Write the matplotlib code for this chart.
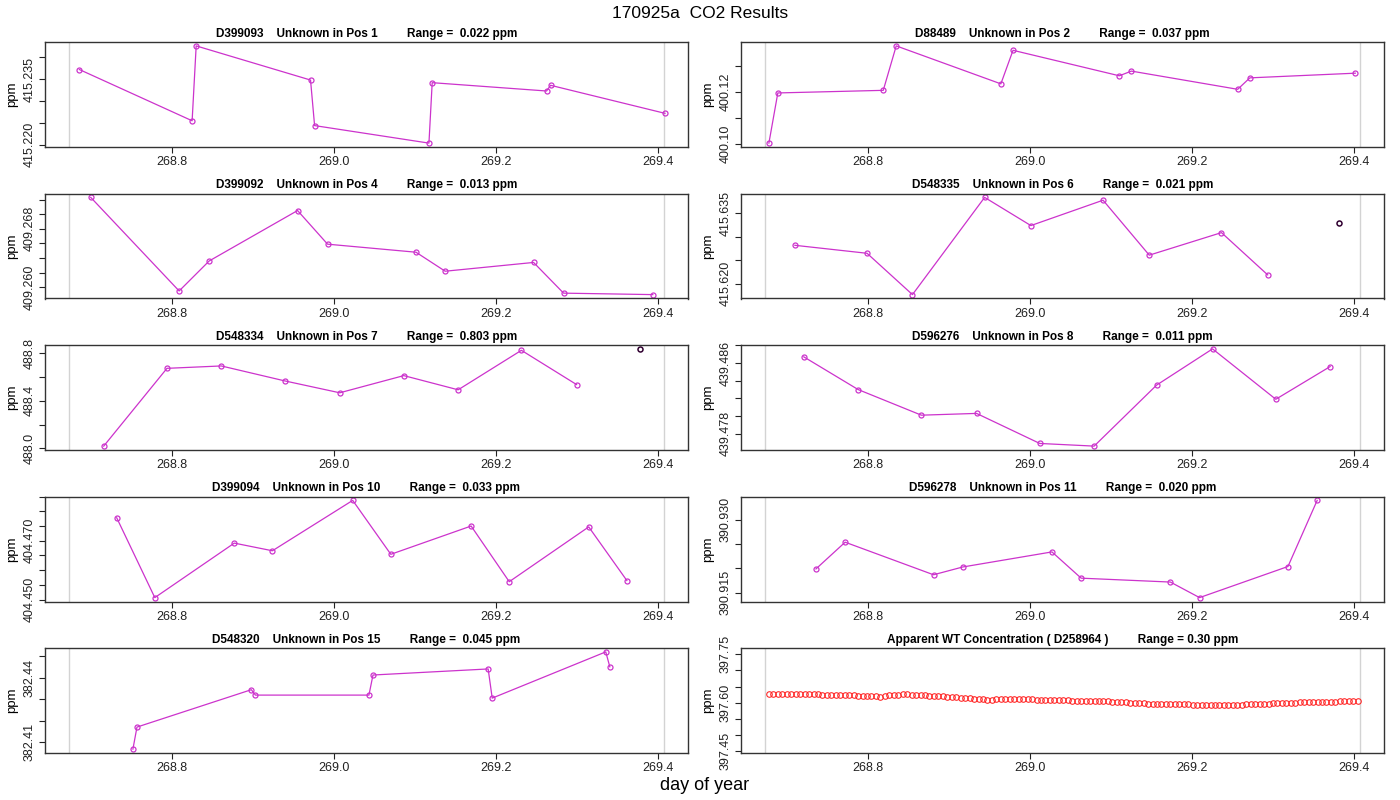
import matplotlib
matplotlib.use("Agg")
import matplotlib.pyplot as plt
from matplotlib.ticker import MultipleLocator, FuncFormatter

plt.rcParams['font.family'] = ['Liberation Sans', 'DejaVu Sans']

# --- shared x axis (day of year) ---
xlim_days = (268.6436, 269.4364)
run_start = 268.673
run_end = 269.407
x_ticks = [268.8, 269.0, 269.2, 269.4]

# --- unknown tanks ---
pos1_day = [268.686, 268.825, 268.830, 268.971, 268.976, 269.117, 269.121, 269.262, 269.267, 269.408]
pos1_ppm = [415.2372, 415.2255, 415.2426, 415.2348, 415.2244, 415.2204, 415.2342, 415.2323, 415.2336, 415.2272]
pos1_title = "D399093    Unknown in Pos 1         Range =  0.022 ppm"
pos1_ystep = 0.005
pos1_ylabels = ["415.220", "415.235"]

pos2_day = [268.678, 268.689, 268.819, 268.835, 268.964, 268.979, 269.110, 269.125, 269.256, 269.271, 269.401]
pos2_ppm = [400.1003, 400.1196, 400.1206, 400.1377, 400.1231, 400.1360, 400.1262, 400.1280, 400.1210, 400.1254, 400.1272]
pos2_title = "D88489    Unknown in Pos 2         Range =  0.037 ppm"
pos2_ystep = 0.01
pos2_ylabels = ["400.10", "400.12"]

pos4_day = [268.700, 268.809, 268.846, 268.955, 268.992, 269.101, 269.137, 269.246, 269.283, 269.393]
pos4_ppm = [409.2723, 409.2595, 409.2636, 409.2705, 409.2659, 409.2648, 409.2622, 409.2634, 409.2592, 409.2590]
pos4_title = "D399092    Unknown in Pos 4         Range =  0.013 ppm"
pos4_ystep = 0.002
pos4_ylabels = ["409.260", "409.268"]

pos6_day = [268.710, 268.799, 268.855, 268.944, 269.001, 269.090, 269.147, 269.236, 269.293]
pos6_ppm = [415.6282, 415.6265, 415.6177, 415.6384, 415.6324, 415.6378, 415.6261, 415.6309, 415.6219]
pos6_flag_day = [269.381]
pos6_flag_ppm = [415.6329]
pos6_title = "D548335    Unknown in Pos 6         Range =  0.021 ppm"
pos6_ystep = 0.005
pos6_ylabels = ["415.620", "415.635"]

pos7_day = [268.716, 268.794, 268.861, 268.939, 269.007, 269.086, 269.153, 269.231, 269.299]
pos7_ppm = [488.020, 488.672, 488.692, 488.567, 488.467, 488.611, 488.492, 488.823, 488.536]
pos7_flag_day = [269.377]
pos7_flag_ppm = [488.835]
pos7_title = "D548334    Unknown in Pos 7         Range =  0.803 ppm"
pos7_ystep = 0.2
pos7_ylabels = ["488.0", "488.4", "488.8"]

pos8_day = [268.721, 268.788, 268.866, 268.934, 269.012, 269.079, 269.156, 269.225, 269.303, 269.370]
pos8_ppm = [439.4867, 439.4830, 439.4801, 439.4803, 439.4769, 439.4766, 439.4835, 439.4876, 439.4819, 439.4856]
pos8_title = "D596276    Unknown in Pos 8         Range =  0.011 ppm"
pos8_ystep = 0.002
pos8_ylabels = ["439.478", "439.486"]

pos10_day = [268.732, 268.779, 268.877, 268.924, 269.023, 269.070, 269.169, 269.216, 269.314, 269.361]
pos10_ppm = [404.4778, 404.4507, 404.4692, 404.4666, 404.4837, 404.4654, 404.4750, 404.4561, 404.4747, 404.4565]
pos10_title = "D399094    Unknown in Pos 10         Range =  0.033 ppm"
pos10_ystep = 0.005
pos10_ylabels = ["404.450", "404.470"]

pos11_day = [268.736, 268.772, 268.881, 268.917, 269.027, 269.063, 269.173, 269.209, 269.318, 269.354]
pos11_ppm = [390.9199, 390.9254, 390.9187, 390.9203, 390.9234, 390.9180, 390.9172, 390.9140, 390.9204, 390.9340]
pos11_title = "D596278    Unknown in Pos 11         Range =  0.020 ppm"
pos11_ystep = 0.005
pos11_ylabels = ["390.915", "390.930"]

pos15_day = [268.752, 268.757, 268.898, 268.903, 269.043, 269.048, 269.190, 269.195, 269.335, 269.340]
pos15_ppm = [382.4069, 382.4171, 382.4344, 382.4319, 382.4319, 382.4412, 382.4440, 382.4305, 382.4519, 382.4450]
pos15_title = "D548320    Unknown in Pos 15         Range =  0.045 ppm"
pos15_ystep = 0.01
pos15_ylabels = ["382.41", "382.44"]

# --- working tank (WT) apparent concentration ---
wt_day = [
    268.6780, 268.6835, 268.6890, 268.6945, 268.7000, 268.7055, 268.7110, 268.7165, 268.7220, 268.7275,
    268.7330, 268.7385, 268.7440, 268.7495, 268.7550, 268.7605, 268.7660, 268.7715, 268.7770, 268.7825,
    268.7880, 268.7935, 268.7990, 268.8045, 268.8100, 268.8155, 268.8210, 268.8265, 268.8320, 268.8375,
    268.8430, 268.8485, 268.8540, 268.8595, 268.8650, 268.8705, 268.8760, 268.8815, 268.8870, 268.8925,
    268.8980, 268.9035, 268.9090, 268.9145, 268.9200, 268.9255, 268.9310, 268.9365, 268.9420, 268.9475,
    268.9530, 268.9585, 268.9640, 268.9695, 268.9750, 268.9805, 268.9860, 268.9915, 268.9970, 269.0025,
    269.0080, 269.0135, 269.0190, 269.0245, 269.0300, 269.0355, 269.0410, 269.0465, 269.0520, 269.0575,
    269.0630, 269.0685, 269.0740, 269.0795, 269.0850, 269.0905, 269.0960, 269.1015, 269.1070, 269.1125,
    269.1180, 269.1235, 269.1290, 269.1345, 269.1400, 269.1455, 269.1510, 269.1565, 269.1620, 269.1675,
    269.1730, 269.1785, 269.1840, 269.1895, 269.1950, 269.2005, 269.2060, 269.2115, 269.2170, 269.2225,
    269.2280, 269.2335, 269.2390, 269.2445, 269.2500, 269.2555, 269.2610, 269.2665, 269.2720, 269.2775,
    269.2830, 269.2885, 269.2940, 269.2995, 269.3050, 269.3105, 269.3160, 269.3215, 269.3270, 269.3325,
    269.3380, 269.3435, 269.3490, 269.3545, 269.3600, 269.3655, 269.3710, 269.3765, 269.3820, 269.3875,
    269.3930, 269.3985, 269.4040,
]
wt_ppm = [
    397.628, 397.628, 397.628, 397.628, 397.627, 397.627, 397.627, 397.627, 397.626, 397.626,
    397.626, 397.626, 397.625, 397.625, 397.625, 397.624, 397.624, 397.624, 397.623, 397.623,
    397.622, 397.622, 397.621, 397.621, 397.620, 397.619, 397.621, 397.623, 397.624, 397.625,
    397.626, 397.626, 397.625, 397.624, 397.624, 397.623, 397.622, 397.621, 397.620, 397.620,
    397.619, 397.618, 397.617, 397.616, 397.615, 397.614, 397.613, 397.612, 397.611, 397.610,
    397.610, 397.611, 397.611, 397.612, 397.612, 397.612, 397.612, 397.612, 397.611, 397.611,
    397.610, 397.610, 397.610, 397.609, 397.609, 397.608, 397.608, 397.608, 397.607, 397.607,
    397.606, 397.606, 397.606, 397.605, 397.605, 397.604, 397.604, 397.603, 397.602, 397.601,
    397.601, 397.600, 397.599, 397.599, 397.598, 397.597, 397.597, 397.596, 397.596, 397.596,
    397.595, 397.595, 397.595, 397.595, 397.595, 397.594, 397.594, 397.594, 397.594, 397.594,
    397.594, 397.594, 397.594, 397.594, 397.594, 397.594, 397.594, 397.595, 397.595, 397.596,
    397.596, 397.597, 397.597, 397.598, 397.598, 397.599, 397.599, 397.600, 397.600, 397.601,
    397.601, 397.601, 397.602, 397.602, 397.602, 397.603, 397.603, 397.603, 397.604, 397.604,
    397.604, 397.605, 397.605,
]
wt_title = "Apparent WT Concentration ( D258964 )         Range = 0.30 ppm"
wt_ylim = (397.457, 397.757)
wt_ystep = 0.05
wt_ylabels = ["397.45", "397.60", "397.75"]

LINE_COL = "#CC33CC"
WT_COL = "#FF2020"
GRID_COL = "#D3D3D3"


def label_formatter(labels, step):
    def fmt(v, pos):
        for lab in labels:
            if abs(v - float(lab)) < step * 1e-3:
                return lab
        return ""
    return FuncFormatter(fmt)


def style_axes(ax, title, ystep, ylabels):
    ax.set_xlim(*xlim_days)
    ax.set_xticks(x_ticks)
    ax.set_xticklabels([f"{t:.1f}" for t in x_ticks])
    ax.yaxis.set_major_locator(MultipleLocator(ystep))
    ax.yaxis.set_major_formatter(label_formatter(ylabels, ystep))
    ax.tick_params(direction="out", length=4.5, width=0.8, labelsize=9, pad=2,
                   colors="#222222")
    for lab in ax.get_yticklabels():
        lab.set_rotation(90)
        lab.set_va("center")
    for sp in ax.spines.values():
        sp.set_color("#333333")
        sp.set_linewidth(1.0)
    ax.axvline(run_start, color=GRID_COL, lw=1, zorder=0)
    ax.axvline(run_end, color=GRID_COL, lw=1, zorder=0)
    ax.set_ylabel("ppm", fontsize=9.5)
    ax.yaxis.set_label_coords(-0.041, 0.5)
    ax.annotate(title, xy=(0.5, 1.0), xycoords="axes fraction", xytext=(0, 6),
                textcoords="offset points", ha="center", va="center",
                fontsize=8.5, fontweight="bold")


def draw_unknown(ax, day, ppm, title, ystep, ylabels, flag_day=None, flag_ppm=None):
    ax.plot(day, ppm, color=LINE_COL, lw=0.9, marker="o", ms=3.6,
            mfc="none", mec=LINE_COL, mew=0.9)
    all_ppm = list(ppm)
    if flag_day:
        ax.plot(flag_day, flag_ppm, ls="none", marker="o", ms=3.6,
                mfc="none", mec="#300030", mew=1.1)
        all_ppm += list(flag_ppm)
    lo, hi = min(all_ppm), max(all_ppm)
    pad = 0.04 * (hi - lo)
    ax.set_ylim(lo - pad, hi + pad)
    style_axes(ax, title, ystep, ylabels)


fig = plt.figure(figsize=(14, 8), dpi=100)

W, H = 1400.0, 800.0
col_left = [45, 741]
col_width = 643
row_tops = [42, 193.5, 345, 496.5, 648]
row_h = 105


def make_ax(row, col):
    x0 = col_left[col] / W
    y0 = 1 - (row_tops[row] + row_h) / H
    return fig.add_axes([x0, y0, col_width / W, row_h / H])


panels = [
    (0, 0, pos1_day, pos1_ppm, pos1_title, pos1_ystep, pos1_ylabels, None, None),
    (0, 1, pos2_day, pos2_ppm, pos2_title, pos2_ystep, pos2_ylabels, None, None),
    (1, 0, pos4_day, pos4_ppm, pos4_title, pos4_ystep, pos4_ylabels, None, None),
    (1, 1, pos6_day, pos6_ppm, pos6_title, pos6_ystep, pos6_ylabels, pos6_flag_day, pos6_flag_ppm),
    (2, 0, pos7_day, pos7_ppm, pos7_title, pos7_ystep, pos7_ylabels, pos7_flag_day, pos7_flag_ppm),
    (2, 1, pos8_day, pos8_ppm, pos8_title, pos8_ystep, pos8_ylabels, None, None),
    (3, 0, pos10_day, pos10_ppm, pos10_title, pos10_ystep, pos10_ylabels, None, None),
    (3, 1, pos11_day, pos11_ppm, pos11_title, pos11_ystep, pos11_ylabels, None, None),
    (4, 0, pos15_day, pos15_ppm, pos15_title, pos15_ystep, pos15_ylabels, None, None),
]

for row, col, d, p, t, st, lb, fd, fp in panels:
    ax = make_ax(row, col)
    draw_unknown(ax, d, p, t, st, lb, fd, fp)

# WT panel
ax = make_ax(4, 1)
ax.plot(wt_day, wt_ppm, ls="none", marker="o", ms=4.0, mfc="none", mec=WT_COL, mew=0.75)
wpad = 0.04 * (wt_ylim[1] - wt_ylim[0])
ax.set_ylim(wt_ylim[0] - wpad, wt_ylim[1] + wpad)
style_axes(ax, wt_title, wt_ystep, wt_ylabels)

fig.text(0.5, 1 - 13 / H, "170925a  CO2 Results", ha="center", va="center", fontsize=12.5)
fig.text(0.503, 1 - 785 / H, "day of year", ha="center", va="center", fontsize=13)

fig.savefig("out.png", dpi=100)
